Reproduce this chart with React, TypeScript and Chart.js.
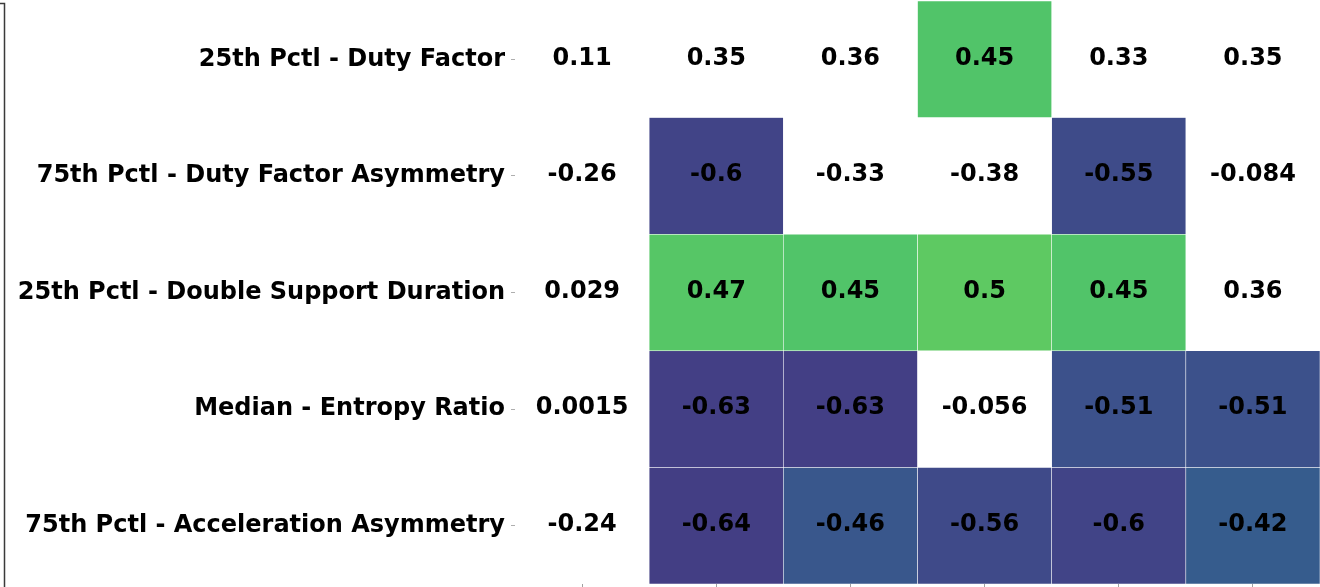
import React, { useEffect, useRef } from "react";
import { Chart, registerables } from "chart.js";

Chart.register(...registerables);

const rowLabels = [
  "25th Pctl - Duty Factor",
  "75th Pctl - Duty Factor Asymmetry",
  "25th Pctl - Double Support Duration",
  "Median - Entropy Ratio",
  "75th Pctl - Acceleration Asymmetry",
];

const columnLabels = ["c0", "c1", "c2", "c3", "c4", "c5"];

const rowDutyFactor = [0.11, 0.35, 0.36, 0.45, 0.33, 0.35];
const rowDutyFactorAsym = [-0.26, -0.6, -0.33, -0.38, -0.55, -0.084];
const rowDoubleSupport = [0.029, 0.47, 0.45, 0.5, 0.45, 0.36];
const rowEntropyRatio = [0.0015, -0.63, -0.63, -0.056, -0.51, -0.51];
const rowAccelAsym = [-0.24, -0.64, -0.46, -0.56, -0.6, -0.42];

const matrix = [rowDutyFactor, rowDutyFactorAsym, rowDoubleSupport, rowEntropyRatio, rowAccelAsym];

const maskThreshold = 0.4;
const vmin = -1;
const vmax = 1;

const viridisStops = [
  "#440154", "#471365", "#482475", "#463480", "#414487", "#3b528b", "#355f8d",
  "#2f6c8e", "#2a788e", "#25848e", "#21918c", "#1e9c89", "#22a884", "#2fb47c",
  "#44bf70", "#5ec962", "#7ad151", "#9bd93c", "#bddf26", "#dfe318", "#fde725",
];

function hexToRgb(h: string) {
  return [parseInt(h.slice(1, 3), 16), parseInt(h.slice(3, 5), 16), parseInt(h.slice(5, 7), 16)];
}

function viridis(v: number) {
  let t = (v - vmin) / (vmax - vmin);
  t = Math.max(0, Math.min(1, t));
  const pos = t * (viridisStops.length - 1);
  const i = Math.min(Math.floor(pos), viridisStops.length - 2);
  const f = pos - i;
  const a = hexToRgb(viridisStops[i]);
  const b = hexToRgb(viridisStops[i + 1]);
  const c = a.map((x, k) => Math.round(x + (b[k] - x) * f));
  return `rgb(${c[0]},${c[1]},${c[2]})`;
}

function fmt(v: number) {
  return Number(v.toPrecision(2)).toString();
}

const annotatePlugin = {
  id: "annotate",
  afterDatasetsDraw(chart: any) {
    const { ctx, scales } = chart;
    const xs = scales.x;
    const ys = scales.y;
    ctx.save();
    ctx.fillStyle = "#000";
    ctx.font = "bold 24px 'DejaVu Sans'";
    ctx.textAlign = "center";
    ctx.textBaseline = "middle";
    matrix.forEach((row, r) => {
      row.forEach((v, c) => {
        const x = xs.getPixelForValue(c);
        const y = ys.getPixelForValue(r + 0.5) - 1;
        ctx.fillText(fmt(v), x, y);
      });
    });
    ctx.restore();
  },
  afterDraw(chart: any) {
    const { ctx } = chart;
    ctx.save();
    ctx.strokeStyle = "#3a3a3a";
    ctx.lineWidth = 1.5;
    ctx.beginPath();
    ctx.moveTo(0, 3.5);
    ctx.lineTo(4.5, 3.5);
    ctx.lineTo(4.5, 587);
    ctx.stroke();
    ctx.restore();
  },
};

export default function App() {
  const canvasRef = useRef<HTMLCanvasElement | null>(null);

  useEffect(() => {
    if (!canvasRef.current) return;
    const datasets = matrix.map((row, r) => ({
      label: rowLabels[r],
      data: row.map(() => [r, r + 1]),
      backgroundColor: row.map((v) => (Math.abs(v) >= maskThreshold ? viridis(v) : "rgba(0,0,0,0)")),
      borderColor: row.map((v) => (Math.abs(v) >= maskThreshold ? "rgba(255,255,255,0.6)" : "rgba(0,0,0,0)")),
      borderWidth: row.map((v) => (Math.abs(v) >= maskThreshold ? 0.6 : 0)),
      borderSkipped: false,
      barPercentage: 1,
      categoryPercentage: 1,
      grouped: false,
    }));

    const chart = new Chart(canvasRef.current, {
      type: "bar",
      data: { labels: columnLabels, datasets: datasets as any },
      options: {
        responsive: false,
        animation: false,
        events: [],
        layout: { padding: { top: 1, right: 0, bottom: 0, left: 0 } },
        plugins: { legend: { display: false }, tooltip: { enabled: false } },
        scales: {
          x: {
            type: "category",
            offset: true,
            border: { display: false },
            grid: { drawOnChartArea: false, offset: false, tickLength: 3, color: "#888", lineWidth: 0.8 },
            ticks: { display: false },
            afterFit(scale: any) {
              scale.height = 3;
              scale.paddingLeft = 0;
              scale.paddingRight = 0;
            },
          },
          y: {
            type: "linear",
            min: 0,
            max: 5,
            reverse: true,
            border: { display: false },
            grid: { drawOnChartArea: false, tickLength: 4, color: "#999", lineWidth: 0.8 },
            afterBuildTicks(scale: any) {
              scale.ticks = [0.5, 1.5, 2.5, 3.5, 4.5].map((v) => ({ value: v }));
            },
            ticks: {
              color: "#000",
              padding: 6,
              font: { family: "'DejaVu Sans'", weight: "bold", size: 24 },
              callback: (value: any) => rowLabels[Math.floor(Number(value))],
            },
            afterFit(scale: any) {
              scale.width = 515;
              scale.paddingTop = 0;
              scale.paddingBottom = 0;
            },
          },
        },
      },
      plugins: [annotatePlugin],
    });
    return () => chart.destroy();
  }, []);

  return (
    <div style={{ position: "absolute", left: 0, top: 0, width: 1320, height: 587, background: "#fff" }}>
      <canvas ref={canvasRef} width={1320} height={587} style={{ display: "block" }} />
    </div>
  );
}
